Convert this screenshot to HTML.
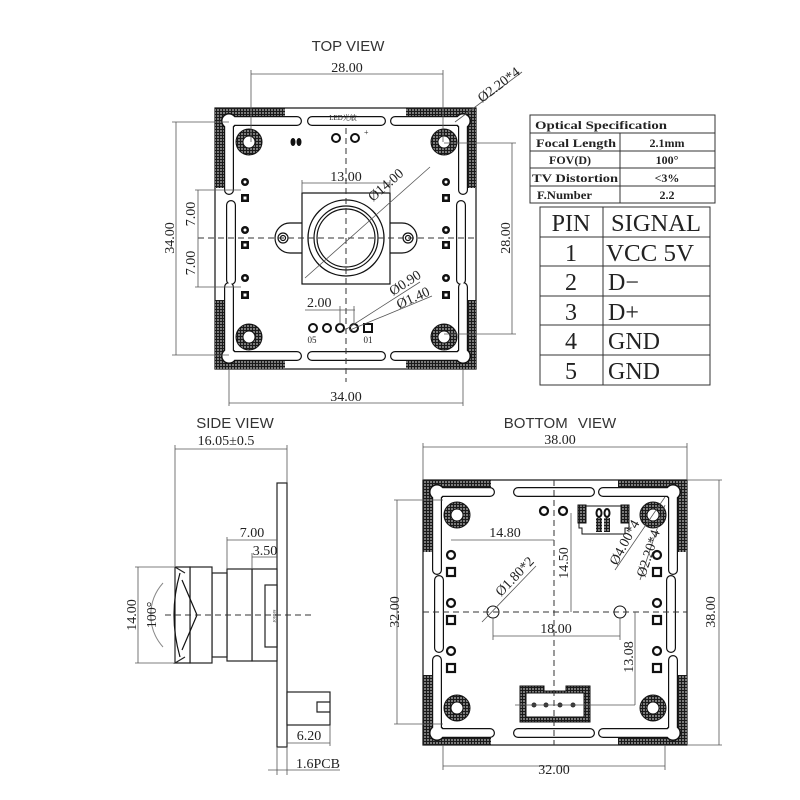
<!DOCTYPE html>
<html><head><meta charset="utf-8"><style>
html,body{margin:0;padding:0;background:#fff}
svg{display:block}
text{font-family:"Liberation Serif","Noto Serif CJK SC",serif;fill:#222}
.t{font-family:"Liberation Sans",sans-serif;font-size:15px;fill:#333}
.d{font-size:14px}
.ln{stroke:#555;stroke-width:0.8;fill:none}
.k{stroke:#111;fill:none;stroke-width:1.2}
.dash{stroke:#333;stroke-width:1;stroke-dasharray:6,4;fill:none}
.sb{stroke:#111;stroke-width:10;stroke-linecap:round;stroke-linejoin:round;fill:none}
.sw{stroke:#fff;stroke-width:7.6;stroke-linecap:round;stroke-linejoin:round;fill:none}
.big{font-size:24px}
</style></head><body>
<svg width="800" height="800" viewBox="0 0 800 800" xmlns="http://www.w3.org/2000/svg">
<defs>
<pattern id="h" width="3" height="3" patternUnits="userSpaceOnUse">
<rect width="3" height="3" fill="#7a7a7a"/><path d="M0 0.5H3M0.5 0V3" stroke="#1a1a1a" stroke-width="1"/>
</pattern>
</defs>

<!-- ================= TOP VIEW ================= -->
<text class="t" x="348" y="51" text-anchor="middle">TOP VIEW</text>
<rect x="215" y="108" width="261" height="261" fill="#fff" stroke="#111" stroke-width="1.2"/>
<g fill="url(#h)">
<rect x="215" y="108" width="70" height="14"/><rect x="215" y="108" width="14" height="80"/>
<rect x="406" y="108" width="70" height="14"/><rect x="462" y="108" width="14" height="80"/>
<rect x="215" y="300" width="14" height="69"/><rect x="215" y="355" width="70" height="14"/>
<rect x="406" y="355" width="70" height="14"/><rect x="462" y="300" width="14" height="69"/>
</g>
<g>
<path class="sb" d="M297,121 L229,121 L229,190 M395,121 L463,121 L463,190 M229,287 L229,356 L297,356 M463,287 L463,356 L395,356 M312,121 L381,121 M312,356 L381,356 M231,205 L231,280 M461,205 L461,280"/>
<circle cx="229" cy="121" r="8" fill="#111"/><circle cx="463" cy="121" r="8" fill="#111"/><circle cx="229" cy="356" r="8" fill="#111"/><circle cx="463" cy="356" r="8" fill="#111"/>
<path class="sw" d="M297,121 L229,121 L229,190 M395,121 L463,121 L463,190 M229,287 L229,356 L297,356 M463,287 L463,356 L395,356 M312,121 L381,121 M312,356 L381,356 M231,205 L231,280 M461,205 L461,280"/>
<circle cx="229" cy="121" r="6.5" fill="#fff"/><circle cx="463" cy="121" r="6.5" fill="#fff"/><circle cx="229" cy="356" r="6.5" fill="#fff"/><circle cx="463" cy="356" r="6.5" fill="#fff"/>
</g>
<g>
<circle cx="249" cy="142" r="13" fill="url(#h)" stroke="#111"/><circle cx="249" cy="142" r="6" fill="#fff" stroke="#111"/>
<circle cx="444" cy="142" r="13" fill="url(#h)" stroke="#111"/><circle cx="444" cy="142" r="6" fill="#fff" stroke="#111"/>
<circle cx="249" cy="337" r="13" fill="url(#h)" stroke="#111"/><circle cx="249" cy="337" r="6" fill="#fff" stroke="#111"/>
<circle cx="444" cy="337" r="13" fill="url(#h)" stroke="#111"/><circle cx="444" cy="337" r="6" fill="#fff" stroke="#111"/>
</g>
<g fill="#111">
<circle cx="245" cy="182" r="4"/><rect x="241" y="194" width="8" height="8"/>
<circle cx="245" cy="230" r="4"/><rect x="241" y="241" width="8" height="8"/>
<circle cx="245" cy="278" r="4"/><rect x="241" y="291" width="8" height="8"/>
<circle cx="446" cy="182" r="4"/><rect x="442" y="194" width="8" height="8"/>
<circle cx="446" cy="230" r="4"/><rect x="442" y="241" width="8" height="8"/>
<circle cx="446" cy="278" r="4"/><rect x="442" y="291" width="8" height="8"/>
<ellipse cx="293" cy="142" rx="2.5" ry="4"/><ellipse cx="299" cy="142" rx="2.5" ry="4"/>
</g>
<g fill="#fff"><circle cx="245" cy="182" r="1.5"/><circle cx="245" cy="230" r="1.5"/><circle cx="245" cy="278" r="1.5"/><circle cx="446" cy="182" r="1.5"/><circle cx="446" cy="230" r="1.5"/><circle cx="446" cy="278" r="1.5"/>
<rect x="243.5" y="196.5" width="3" height="3"/><rect x="243.5" y="243.5" width="3" height="3"/><rect x="243.5" y="293.5" width="3" height="3"/>
<rect x="444.5" y="196.5" width="3" height="3"/><rect x="444.5" y="243.5" width="3" height="3"/><rect x="444.5" y="293.5" width="3" height="3"/></g>
<circle cx="336" cy="138" r="4" fill="none" stroke="#111" stroke-width="2"/>
<circle cx="355" cy="138" r="4" fill="none" stroke="#111" stroke-width="2"/>
<text x="343" y="120" font-size="7" text-anchor="middle" font-family="Liberation Sans,Noto Sans CJK SC,sans-serif">LED光敏</text>
<text x="364" y="135" font-size="8">+</text>
<rect x="302" y="193" width="88" height="91" fill="#fff" stroke="#111" stroke-width="1.2"/>
<path d="M302,223 L290,223 A15,15 0 0 0 290,253 L302,253" class="k" fill="#fff"/>
<path d="M390,223 L402,223 A15,15 0 0 1 402,253 L390,253" class="k" fill="#fff"/>
<circle cx="283" cy="238" r="5" class="k"/><circle cx="283" cy="238" r="2.5" class="k"/>
<circle cx="408" cy="238" r="5" class="k"/><circle cx="408" cy="238" r="2.5" class="k"/>
<circle cx="346" cy="238" r="38" fill="#fff" stroke="#111" stroke-width="1.3"/>
<circle cx="346" cy="238" r="32" class="k"/>
<circle cx="346" cy="238" r="29" class="k"/>
<g fill="none" stroke="#111" stroke-width="2">
<circle cx="313" cy="328" r="4"/><circle cx="327" cy="328" r="4"/><circle cx="340" cy="328" r="4"/><circle cx="354" cy="328" r="4"/><rect x="364" y="324" width="8" height="8"/>
</g>
<text x="312" y="343" font-size="9" text-anchor="middle" font-family="Liberation Sans,sans-serif">05</text>
<text x="368" y="343" font-size="9" text-anchor="middle" font-family="Liberation Sans,sans-serif">01</text>
<path class="dash" d="M198,238 H478 M346,128 V382"/>
<path class="ln" d="M251,74 H443 M251,70 V142 M443,70 V142"/>
<text class="d" x="347" y="72" text-anchor="middle">28.00</text>
<path class="ln" d="M455,122 L522,72"/>
<text class="d" transform="translate(482,103) rotate(-37)">Ø2.20*4</text>
<path class="ln" d="M176,122 V355 M172,122 H229 M172,355 H229"/>
<text class="d" transform="translate(174,238) rotate(-90)" text-anchor="middle">34.00</text>
<path class="ln" d="M198,190 V287 M195,190 H241 M195,287 H241"/>
<text class="d" transform="translate(195,214) rotate(-90)" text-anchor="middle">7.00</text>
<text class="d" transform="translate(195,263) rotate(-90)" text-anchor="middle">7.00</text>
<path class="ln" d="M512,143 V334 M444,143 H516 M444,334 H516"/>
<text class="d" transform="translate(510,238) rotate(-90)" text-anchor="middle">28.00</text>
<path class="ln" d="M229,403 H463 M229,369 V406 M463,369 V406"/>
<text class="d" x="346" y="401" text-anchor="middle">34.00</text>
<path class="ln" d="M302,183 H390 M302,180 V193 M390,180 V193"/>
<text class="d" x="346" y="181" text-anchor="middle">13.00</text>
<path class="ln" d="M305,278 L430,167"/>
<text class="d" transform="translate(373,202) rotate(-41)">Ø14.00</text>
<path class="ln" d="M305,310 H355 M340,306 V325 M354,306 V325 M345,330 L420,282 M350,330 L432,296"/>
<text class="d" x="307" y="307">2.00</text>
<text class="d" transform="translate(393,296) rotate(-33)">Ø0.90</text>
<text class="d" transform="translate(399,309) rotate(-24)">Ø1.40</text>

<!-- ================= TABLES ================= -->
<g stroke="#333" stroke-width="1" fill="none">
<rect x="530" y="115" width="185" height="88"/>
<path d="M530,133 H715 M530,151 H715 M530,168 H715 M530,186 H715 M620,133 V203"/>
<rect x="540" y="207" width="170" height="178"/>
<path d="M540,237 H710 M540,266 H710 M540,296 H710 M540,325 H710 M540,355 H710 M603,207 V385"/>
</g>
<g font-family="Liberation Mono,monospace" font-size="12" font-weight="bold" fill="#111">
<text x="535" y="129" textLength="132" lengthAdjust="spacingAndGlyphs">Optical Specification</text>
<text x="536" y="147" textLength="80" lengthAdjust="spacingAndGlyphs">Focal Length</text>
<text x="549" y="164">FOV(D)</text>
<text x="532" y="182" textLength="86" lengthAdjust="spacingAndGlyphs">TV Distortion</text>
<text x="537" y="199" textLength="55" lengthAdjust="spacingAndGlyphs">F.Number</text>
<text x="667" y="147" text-anchor="middle">2.1mm</text>
<text x="667" y="164" text-anchor="middle">100°</text>
<text x="667" y="182" text-anchor="middle">&lt;3%</text>
<text x="667" y="199" text-anchor="middle">2.2</text>
</g>
<g class="big" fill="#222">
<text x="571" y="231" text-anchor="middle">PIN</text>
<text x="611" y="231" textLength="90" lengthAdjust="spacingAndGlyphs">SIGNAL</text>
<text x="571" y="261" text-anchor="middle">1</text><text x="606" y="261" textLength="88" lengthAdjust="spacingAndGlyphs">VCC 5V</text>
<text x="571" y="290" text-anchor="middle">2</text><text x="608" y="290">D−</text>
<text x="571" y="320" text-anchor="middle">3</text><text x="608" y="320">D+</text>
<text x="571" y="349" text-anchor="middle">4</text><text x="608" y="349" textLength="52" lengthAdjust="spacingAndGlyphs">GND</text>
<text x="571" y="379" text-anchor="middle">5</text><text x="608" y="379" textLength="52" lengthAdjust="spacingAndGlyphs">GND</text>
</g>

<!-- ================= SIDE VIEW ================= -->
<text class="t" x="235" y="428" text-anchor="middle">SIDE VIEW</text>
<text class="d" x="226" y="445" text-anchor="middle">16.05±0.5</text>
<path class="ln" d="M175,449 H287 M175,445 V566 M287,445 V483"/>
<g fill="#fff" stroke="#222" stroke-width="1.2">
<rect x="277" y="483" width="10" height="264"/>
<rect x="287" y="692" width="43" height="33"/>
<path d="M330,702 H317 V712 H330" fill="none"/>
<rect x="252" y="569" width="25" height="92"/>
<rect x="227" y="569" width="25" height="92"/>
<rect x="212" y="573" width="15" height="84"/>
<rect x="190" y="567" width="22" height="96"/>
<path d="M175,567 H190 V663 H175 L185,657 L175,663 Z M175,567 L185,573" fill="#fff"/>
<rect x="265" y="585" width="12" height="62"/>
</g>
<path d="M180,573 Q168,615 180,657" class="k"/>
<path d="M182,580 L197,615 L182,650" class="k"/>
<path d="M163,583 A48,48 0 0 0 163,647" stroke="#888" fill="none"/>
<path class="dash" d="M165,615 H315"/>
<text transform="translate(273,616) rotate(90)" font-size="5" text-anchor="middle">sensor</text>
<path class="ln" d="M138,567 V663 M135,567 H175 M135,663 H175"/>
<text class="d" transform="translate(136,615) rotate(-90)" text-anchor="middle">14.00</text>
<text class="d" transform="translate(156,615) rotate(-90)" text-anchor="middle">100°</text>
<path class="ln" d="M227,540 H277 M227,537 V569 M252,553 V569 M252,557 H277"/>
<text class="d" x="252" y="537" text-anchor="middle">7.00</text>
<text class="d" x="265" y="555" text-anchor="middle" font-size="12">3.50</text>
<path class="ln" d="M287,743 H330 M330,725 V746 M277,747 V775 M287,747 V775 M268,770 H340"/>
<text class="d" x="309" y="740" text-anchor="middle">6.20</text>
<text class="d" x="296" y="768">1.6PCB</text>

<!-- ================= BOTTOM VIEW ================= -->
<text class="t" x="560" y="428" text-anchor="middle" style="word-spacing:6px">BOTTOM VIEW</text>
<rect x="423" y="480" width="264" height="265" fill="#fff" stroke="#111" stroke-width="1.2"/>
<g fill="url(#h)">
<rect x="423" y="480" width="68" height="15"/><rect x="423" y="480" width="16" height="72"/>
<rect x="618" y="480" width="69" height="15"/><rect x="671" y="480" width="16" height="72"/>
<rect x="423" y="675" width="16" height="70"/><rect x="423" y="730" width="68" height="15"/>
<rect x="618" y="730" width="69" height="15"/><rect x="671" y="675" width="16" height="70"/>
</g>
<path class="sb" d="M490,492 L437,492 L437,570 M603,492 L673,492 L673,570 M437,660 L437,733 L490,733 M673,660 L673,733 L603,733 M518,492 L590,492 M518,733 L590,733 M439,580 L439,648 M671,580 L671,648"/>
<circle cx="437" cy="492" r="8" fill="#111"/><circle cx="673" cy="492" r="8" fill="#111"/><circle cx="437" cy="733" r="8" fill="#111"/><circle cx="673" cy="733" r="8" fill="#111"/>
<path class="sw" d="M490,492 L437,492 L437,570 M603,492 L673,492 L673,570 M437,660 L437,733 L490,733 M673,660 L673,733 L603,733 M518,492 L590,492 M518,733 L590,733 M439,580 L439,648 M671,580 L671,648"/>
<circle cx="437" cy="492" r="6.5" fill="#fff"/><circle cx="673" cy="492" r="6.5" fill="#fff"/><circle cx="437" cy="733" r="6.5" fill="#fff"/><circle cx="673" cy="733" r="6.5" fill="#fff"/>
<g>
<circle cx="457" cy="515" r="13" fill="url(#h)" stroke="#111"/><circle cx="457" cy="515" r="6" fill="#fff" stroke="#111"/>
<circle cx="653" cy="515" r="13" fill="url(#h)" stroke="#111"/><circle cx="653" cy="515" r="6" fill="#fff" stroke="#111"/>
<circle cx="457" cy="708" r="13" fill="url(#h)" stroke="#111"/><circle cx="457" cy="708" r="6" fill="#fff" stroke="#111"/>
<circle cx="653" cy="708" r="13" fill="url(#h)" stroke="#111"/><circle cx="653" cy="708" r="6" fill="#fff" stroke="#111"/>
</g>
<g fill="none" stroke="#111" stroke-width="2.2">
<circle cx="451" cy="555" r="4"/><rect x="447" y="568" width="8" height="8"/>
<circle cx="451" cy="603" r="4"/><rect x="447" y="616" width="8" height="8"/>
<circle cx="451" cy="651" r="4"/><rect x="447" y="664" width="8" height="8"/>
<circle cx="657" cy="555" r="4"/><rect x="653" y="568" width="8" height="8"/>
<circle cx="657" cy="603" r="4"/><rect x="653" y="616" width="8" height="8"/>
<circle cx="657" cy="651" r="4"/><rect x="653" y="664" width="8" height="8"/>
<circle cx="544" cy="511" r="4"/><circle cx="563" cy="511" r="4"/>
</g>
<g stroke="#111" fill="#fff">
<path d="M579,506 H629 V528 H625 V534 H582 V528 H579 Z"/>
<rect x="578" y="505" width="8" height="18" fill="url(#h)"/>
<rect x="621" y="505" width="8" height="18" fill="url(#h)"/>
<rect x="596" y="518" width="6" height="14" fill="url(#h)" stroke="none"/>
<rect x="604" y="518" width="6" height="14" fill="url(#h)" stroke="none"/>
<ellipse cx="599" cy="513" rx="2.5" ry="4" fill="#fff" stroke-width="2"/>
<ellipse cx="607" cy="513" rx="2.5" ry="4" fill="#fff" stroke-width="2"/>
</g>
<path d="M520,686 H544 V691 H566 V686 H590 V722 H520 Z" fill="url(#h)" stroke="#111"/>
<rect x="526" y="693" width="58" height="24" fill="#fff" stroke="#111"/>
<g fill="#333"><circle cx="534" cy="705" r="2.5"/><circle cx="546" cy="705" r="2.5"/><circle cx="560" cy="705" r="2.5"/><circle cx="573" cy="705" r="2.5"/></g>
<path class="ln" d="M515,705 H595 M595,705 H635"/>
<circle cx="493" cy="612" r="6" fill="#fff" stroke="#111"/>
<circle cx="620" cy="612" r="6" fill="#fff" stroke="#111"/>
<path class="dash" d="M423,612 H687 M554,480 V745"/>
<path class="ln" d="M423,447 H687 M423,443 V480 M687,443 V480"/>
<text class="d" x="560" y="444" text-anchor="middle">38.00</text>
<path class="ln" d="M719,480 V745 M687,480 H722 M687,745 H722"/>
<text class="d" transform="translate(715,612) rotate(-90)" text-anchor="middle">38.00</text>
<path class="ln" d="M397,500 V724 M394,500 H443 M394,724 H443"/>
<text class="d" transform="translate(399,612) rotate(-90)" text-anchor="middle">32.00</text>
<path class="ln" d="M443,766 H665 M443,745 V770 M665,745 V770"/>
<text class="d" x="554" y="774" text-anchor="middle">32.00</text>
<path class="ln" d="M451,540 H554"/>
<text class="d" x="505" y="537" text-anchor="middle">14.80</text>
<path class="ln" d="M571,513 V612"/>
<text class="d" transform="translate(568,563) rotate(-90)" text-anchor="middle">14.50</text>
<path class="ln" d="M493,636 H620 M493,618 V640 M620,618 V640"/>
<text class="d" x="556" y="633" text-anchor="middle">18.00</text>
<path class="ln" d="M635,612 V705"/>
<text class="d" transform="translate(633,657) rotate(-90)" text-anchor="middle">13.08</text>
<path class="ln" d="M482,622 L536,566"/>
<text class="d" font-size="12" transform="translate(501,597) rotate(-46)">Ø1.80*2</text>
<path class="ln" d="M615,570 L665,497 M640,580 L665,505"/>
<text class="d" font-size="12" transform="translate(617,566) rotate(-62)">Ø4.00*4</text>
<text class="d" font-size="12" transform="translate(645,578) rotate(-72)">Ø2.20*4</text>
</svg>
</body></html>
